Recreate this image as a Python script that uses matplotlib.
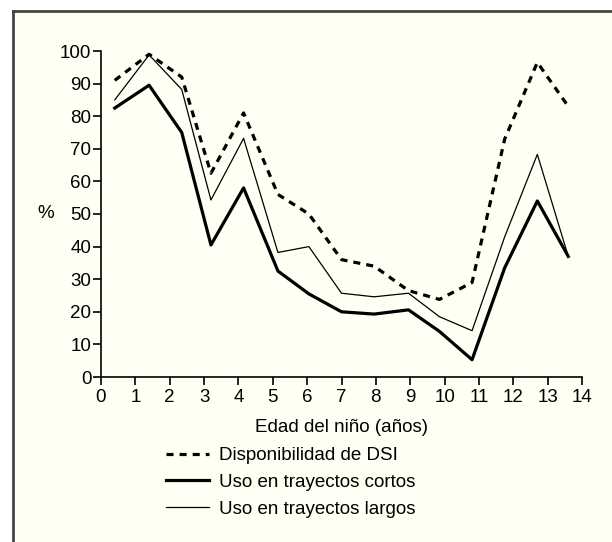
import matplotlib
matplotlib.use("Agg")
import matplotlib.pyplot as plt
from matplotlib.patches import Rectangle

plt.rcParams["font.family"] = ["Liberation Sans", "DejaVu Sans"]

edad = [0.4, 1.4, 2.35, 3.2, 4.15, 5.15, 6.05, 7.0, 7.95, 8.95, 9.85, 10.8, 11.75, 12.7, 13.6]
dsi = [91, 99, 92, 62.5, 81, 56, 50, 36, 34, 26.5, 23.8, 29, 73, 96.5, 83]
cortos = [82.5, 89.5, 75, 40.5, 58, 32.5, 25.5, 20, 19.3, 20.6, 14, 5.3, 33.5, 54, 37]
largos = [85, 98.8, 88.2, 54.3, 73.2, 38.2, 40, 25.7, 24.6, 25.7, 18.5, 14.2, 43, 68.3, 37]

W, H = 612, 542
fs = 13.5
fig = plt.figure(figsize=(W / 100, H / 100), dpi=100)
fig.patch.set_facecolor("white")

# cream panel with a grey border on top and left
fig.patches.append(Rectangle((13 / W, 0), 1, 1 - 11 / H, transform=fig.transFigure,
                             facecolor="#fffff3", edgecolor="none", zorder=-2))
fig.add_artist(plt.Line2D([13 / W, 1], [1 - 11 / H, 1 - 11 / H], transform=fig.transFigure,
                          color="#444444", lw=2))
fig.add_artist(plt.Line2D([13 / W, 13 / W], [0, 1 - 11 / H], transform=fig.transFigure,
                          color="#444444", lw=2))

ax = fig.add_axes([101 / W, 165 / H, 481 / W, 326 / H])
ax.set_facecolor("none")

ax.plot(edad, dsi, color="black", lw=2.3, linestyle=(0, (2.2, 1.9)),
        label="Disponibilidad de DSI")
ax.plot(edad, cortos, color="black", lw=2.3, label="Uso en trayectos cortos")
ax.plot(edad, largos, color="black", lw=0.9, label="Uso en trayectos largos")

ax.set_xlim(0, 14)
ax.set_ylim(0, 100)
ax.set_xticks(range(0, 15))
ax.set_yticks(range(0, 101, 10))
ax.spines["top"].set_visible(False)
ax.spines["right"].set_visible(False)
ax.spines["left"].set_linewidth(1.2)
ax.spines["bottom"].set_linewidth(1.2)
ax.tick_params(direction="out", length=6, width=1.2, labelsize=fs)
ax.tick_params(axis="x", pad=3)
ax.tick_params(axis="y", pad=1)

ax.set_xlabel("Edad del niño (años)", fontsize=fs, labelpad=9)
ax.set_ylabel("%", fontsize=fs, rotation=0, labelpad=10, va="center")

fig.legend(loc="upper left", bbox_to_anchor=(166 / W, 1 - 447 / H), frameon=False,
           fontsize=fs, handlelength=2.3, handletextpad=0.55, labelspacing=0.52,
           borderaxespad=0, borderpad=0)

fig.savefig("out.png", dpi=100)
